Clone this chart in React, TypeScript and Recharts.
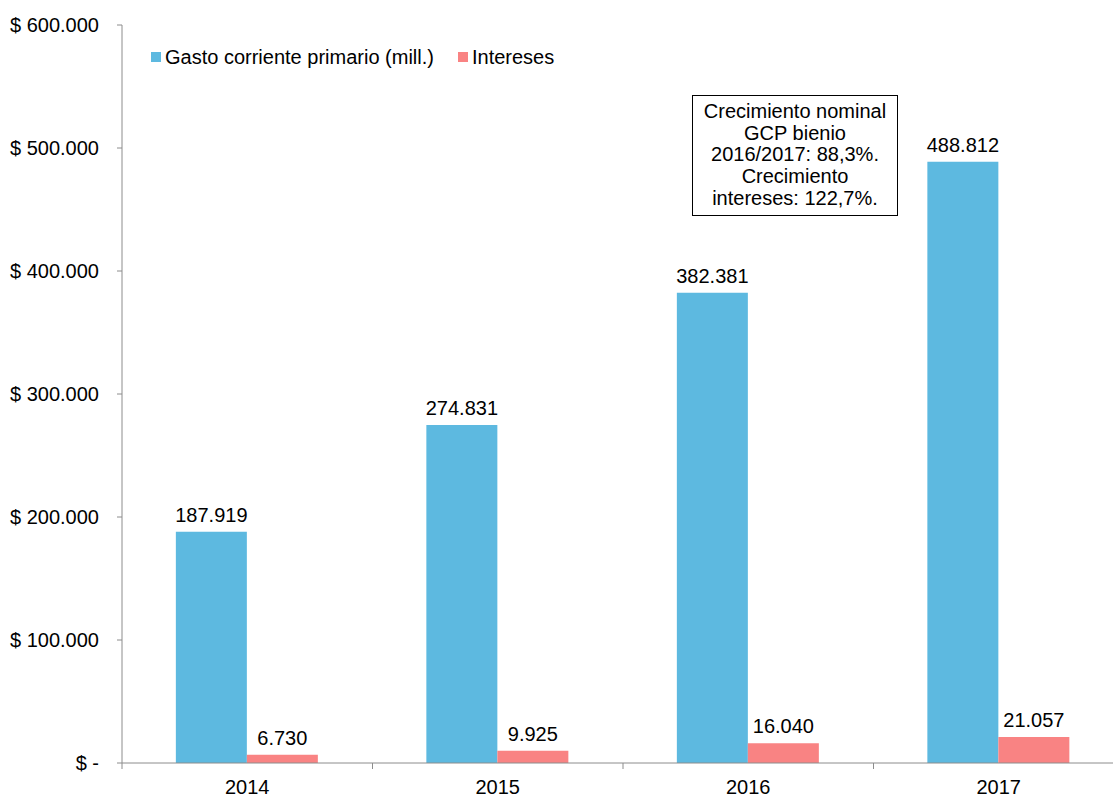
import React from 'react';
import { BarChart, Bar, XAxis, YAxis, LabelList } from 'recharts';

const CATEGORIES = ['2014', '2015', '2016', '2017'];
const GASTO = [187919, 274831, 382381, 488812];
const INTERESES = [6730, 9925, 16040, 21057];
const Y_TICKS = [0, 100000, 200000, 300000, 400000, 500000, 600000];
const SERIES = [
  { key: 'gasto', name: 'Gasto corriente primario (mill.)', color: '#5DB9E0' },
  { key: 'intereses', name: 'Intereses', color: '#F98383' },
];
const NOTE_LINES = [
  'Crecimiento nominal',
  'GCP bienio',
  '2016/2017: 88,3%.',
  'Crecimiento',
  'intereses: 122,7%.',
];

const data = CATEGORIES.map((c, i) => ({ year: c, gasto: GASTO[i], intereses: INTERESES[i] }));

const FONT = '"Liberation Sans", Arial, Helvetica, sans-serif';
const FS = 20;
const AXIS_COLOR = '#8C8C8C';
const CHART_W = 1140;
const CHART_H = 797;
const MARGIN = { top: 25, right: 16, bottom: 0, left: 0 };
const X_AXIS_H = 34;
const AXIS_Y = CHART_H - MARGIN.bottom - X_AXIS_H;

const thousands = (v: number) => String(v).replace(/\B(?=(\d{3})+(?!\d))/g, '.');
const yFmt = (v: number) => (v === 0 ? '$ -' : '$ ' + thousands(v));

const XTick = (props: any) => {
  const { x, payload } = props;
  const off = payload?.offset ?? 0;
  return (
    <g>
      <line x1={x - off} x2={x - off} y1={AXIS_Y} y2={AXIS_Y + 6} stroke={AXIS_COLOR} strokeWidth={1} />
      <text x={x} y={AXIS_Y + 31} textAnchor="middle" fontSize={FS} fontFamily={FONT} fill="#000">
        {payload.value}
      </text>
    </g>
  );
};

const LegendOverlay = () => (
  <div
    style={{
      position: 'absolute',
      left: 151,
      top: 46,
      display: 'flex',
      alignItems: 'center',
      fontFamily: FONT,
      fontSize: FS,
      color: '#000',
      whiteSpace: 'nowrap',
    }}
  >
    {SERIES.map((s, i) => (
      <div key={s.key} style={{ display: 'flex', alignItems: 'center', marginRight: i === 0 ? 24 : 0 }}>
        <span style={{ display: 'inline-block', width: 10, height: 10, background: s.color, marginRight: 4 }} />
        <span style={{ lineHeight: '22px' }}>{s.name}</span>
      </div>
    ))}
  </div>
);

export default function App() {
  return (
    <div
      style={{
        position: 'absolute',
        left: 0,
        top: 0,
        width: 1113,
        height: 797,
        overflow: 'hidden',
        background: '#fff',
        fontFamily: FONT,
      }}
    >
      <BarChart
        width={CHART_W}
        height={CHART_H}
        data={data}
        margin={MARGIN}
        barCategoryGap="21.5%"
        barGap={0}
      >
        <XAxis
          dataKey="year"
          height={X_AXIS_H}
          tickLine={false}
          axisLine={{ stroke: AXIS_COLOR, strokeWidth: 1 }}
          tick={<XTick />}
          interval={0}
        />
        <YAxis
          width={122}
          domain={[0, 600000]}
          ticks={Y_TICKS}
          tickFormatter={yFmt}
          tickSize={5}
          tickMargin={18}
          tickLine={{ stroke: AXIS_COLOR }}
          axisLine={{ stroke: AXIS_COLOR, strokeWidth: 1 }}
          tick={{ fontSize: FS, fontFamily: FONT, fill: '#000' }}
          interval={0}
        />
        {SERIES.map((s) => (
          <Bar key={s.key} dataKey={s.key} name={s.name} fill={s.color} isAnimationActive={false}>
            <LabelList
              dataKey={s.key}
              position="top"
              offset={10}
              formatter={(v: any) => thousands(Number(v))}
              style={{ fontSize: FS, fontFamily: FONT, fill: '#000' }}
            />
          </Bar>
        ))}
      </BarChart>
      <LegendOverlay />
      <div
        style={{
          position: 'absolute',
          left: 692,
          top: 95,
          width: 206,
          height: 121,
          boxSizing: 'border-box',
          border: '1px solid #000',
          background: '#fff',
          textAlign: 'center',
          fontFamily: FONT,
          fontSize: FS,
          lineHeight: '21.7px',
          paddingTop: 5,
          color: '#000',
        }}
      >
        {NOTE_LINES.map((l, i) => (
          <div key={i}>{l}</div>
        ))}
      </div>
    </div>
  );
}
